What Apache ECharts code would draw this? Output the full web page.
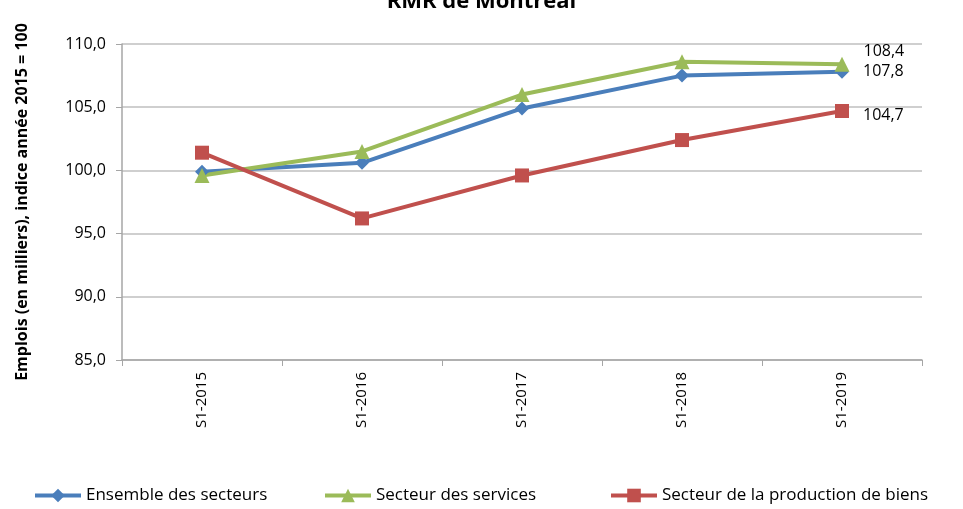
<!DOCTYPE html>
<html>
<head>
<meta charset="utf-8">
<script src="https://cdn.jsdelivr.net/npm/echarts@6/dist/echarts.min.js"></script>
<style>
  html, body { margin: 0; padding: 0; background: #fff; }
  #chart { width: 963px; height: 509px; }
</style>
</head>
<body>
<div id="chart"></div>
<script>
const categories = ['S1-2015', 'S1-2016', 'S1-2017', 'S1-2018', 'S1-2019'];
const seriesNames = ['Ensemble des secteurs', 'Secteur des services', 'Secteur de la production de biens'];
const ensemble = [99.9, 100.6, 104.9, 107.5, 107.8];
const services = [99.6, 101.5, 106.0, 108.6, 108.4];
const production = [101.4, 96.2, 99.6, 102.4, 104.7];

const fmt = v => v.toFixed(1).replace('.', ',');
const font = 'Open Sans';

// label only on the last point
function lastLabel(offsetY) {
  return {
    show: true,
    position: 'right',
    distance: 14,
    offset: [0, offsetY],
    color: '#000',
    fontFamily: font,
    fontSize: 16,
    formatter: p => p.dataIndex === categories.length - 1 ? fmt(p.value) : ''
  };
}

function makeSeries(name, data, color, symbol, size, offsetY) {
  return {
    name: name,
    type: 'line',
    data: data,
    symbol: symbol,
    symbolSize: size,
    lineStyle: { color: color, width: 4 },
    itemStyle: { color: color },
    label: lastLabel(offsetY),
    emphasis: { disabled: true },
    z: 3
  };
}

function legendAt(name, left) {
  return {
    data: [name],
    bottom: 0,
    left: left,
    itemWidth: 46,
    itemHeight: 17,
    itemGap: 10,
    lineStyle: { width: 4 },
    textStyle: { fontSize: 17, color: '#000', fontFamily: font }
  };
}

const chart = echarts.init(document.getElementById('chart'));
chart.setOption({
  animation: false,
  textStyle: { fontFamily: font },
  title: {
    text: 'RMR de Montréal',
    left: 'center',
    top: -14,
    textStyle: { fontSize: 22, fontWeight: 'bold', color: '#000', fontFamily: font }
  },
  grid: { left: 122, right: 41, top: 44, bottom: 149 },
  legend: [
    legendAt(seriesNames[0], 28),
    legendAt(seriesNames[1], 318),
    legendAt(seriesNames[2], 604)
  ],
  xAxis: {
    type: 'category',
    data: categories,
    boundaryGap: true,
    axisLine: { lineStyle: { color: '#a6a6a6', width: 1.5 } },
    axisTick: { show: true, length: 6, lineStyle: { color: '#a6a6a6' } },
    axisLabel: { rotate: 90, color: '#000', fontSize: 15, margin: 12, fontFamily: font }
  },
  yAxis: {
    type: 'value',
    min: 85,
    max: 110,
    interval: 5,
    name: 'Emplois (en milliers), indice année 2015 = 100',
    nameLocation: 'middle',
    nameGap: 92,
    nameTextStyle: { fontSize: 16, fontWeight: 'bold', color: '#000', fontFamily: font },
    axisLine: { show: true, lineStyle: { color: '#a6a6a6', width: 1.5 } },
    axisTick: { show: true, length: 6, lineStyle: { color: '#a6a6a6' } },
    splitLine: { lineStyle: { color: '#bfbfbf', width: 1.5 } },
    axisLabel: { color: '#000', fontSize: 16, margin: 16, formatter: v => fmt(v), fontFamily: font }
  },
  series: [
    makeSeries(seriesNames[0], ensemble, '#4a7ebb', 'diamond', 14, 0),
    makeSeries(seriesNames[1], services, '#9bbb59', 'triangle', 15, -13),
    makeSeries(seriesNames[2], production, '#c0504d', 'rect', 14, 4)
  ]
});
</script>
</body>
</html>
